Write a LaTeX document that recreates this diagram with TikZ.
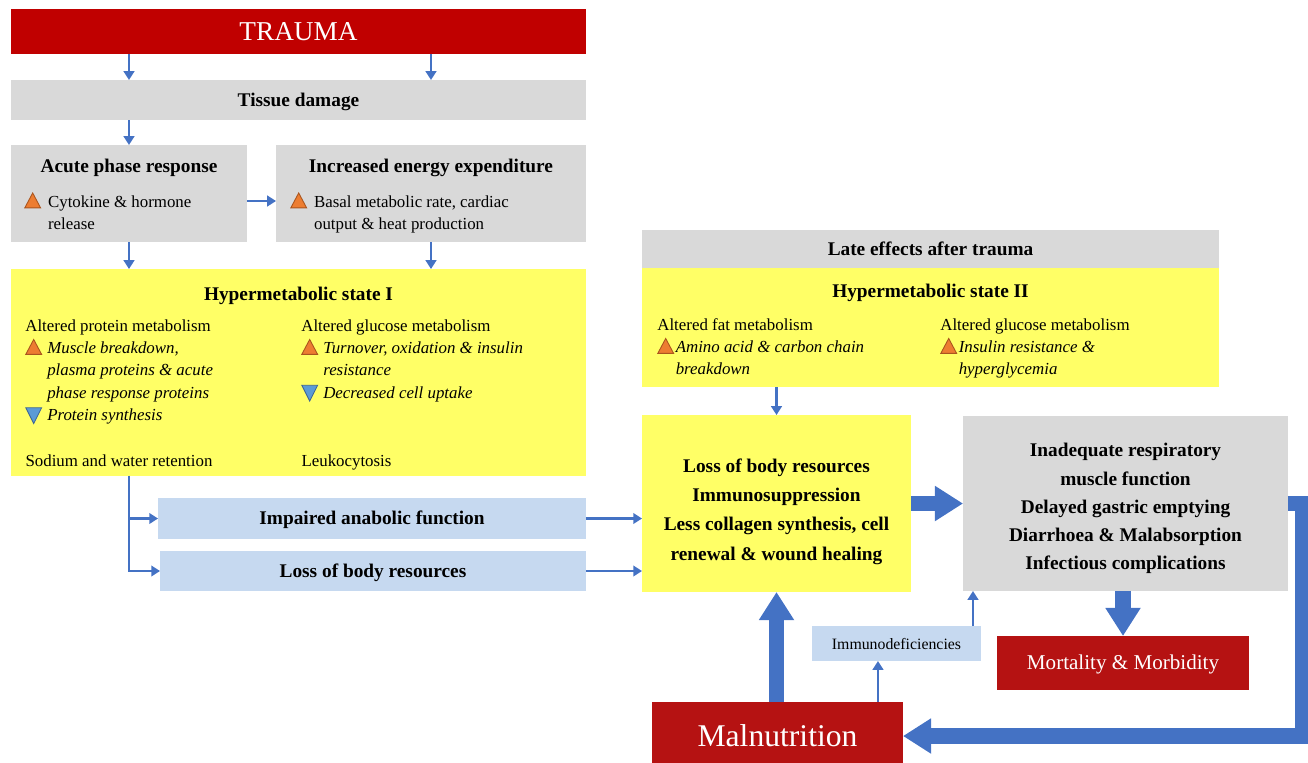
\documentclass[tikz,border=0pt]{standalone}
\usepackage{fontspec}
\setmainfont{Liberation Serif}
\usetikzlibrary{arrows.meta}
\definecolor{traumared}{RGB}{192,0,0}
\definecolor{darkred}{RGB}{181,18,18}
\definecolor{boxgrey}{RGB}{217,217,217}
\definecolor{boxyellow}{RGB}{255,255,102}
\definecolor{boxblue}{RGB}{198,217,240}
\definecolor{arrowblue}{RGB}{68,114,196}
\definecolor{triorange}{RGB}{237,125,49}
\definecolor{triedge}{RGB}{170,85,30}
\definecolor{triblue}{RGB}{91,155,213}
\definecolor{triblueedge}{RGB}{60,100,150}
\newcommand{\incr}{\tikz[baseline=0pt]\draw[draw=triedge,fill=triorange,line width=0.5pt] (0,-0.5pt) -- (9pt,-0.5pt) -- (4.5pt,8pt) -- cycle;}
\newcommand{\decr}{\tikz[baseline=0pt]\draw[draw=triblueedge,fill=triblue,line width=0.5pt] (0,7.5pt) -- (9pt,7.5pt) -- (4.5pt,-1.5pt) -- cycle;}
\begin{document}
\begin{tikzpicture}[x=0.02cm,y=-0.02cm,line width=0.6pt,
  box/.style={inner sep=0pt,outer sep=0pt,align=center},
  mid/.style={text height=0.95em,text depth=0.25em},
  head/.style={font=\fontsize{11}{16}\selectfont\bfseries,inner sep=0pt},
  txt/.style={font=\fontsize{9.6}{12.8}\selectfont,inner sep=0pt},
  arr/.style={color=arrowblue,line width=1.6pt,-{Triangle[width=6pt,length=5pt]}},
  bigarr/.style={color=arrowblue,line width=9pt,-{Triangle[width=19pt,length=16pt]}}]
\useasboundingbox (0,0) rectangle (1308,762);
\node[box,fill=traumared,text=white,font=\fontsize{15.5}{18}\selectfont,minimum width=11.5cm,minimum height=0.9cm] (trauma) at (298.5,31.5) {TRAUMA};
\node[box,mid,fill=boxgrey,font=\fontsize{11}{16}\selectfont\bfseries,minimum width=11.5cm,minimum height=0.8cm] (tissue) at (298.5,100) {Tissue damage};
\node[box,fill=boxgrey,minimum width=4.72cm,minimum height=1.94cm] (acute) at (129,193.5) {};
\node[box,fill=boxgrey,minimum width=6.2cm,minimum height=1.94cm] (energy) at (431,193.5) {};
\node[head] (acuteT) at (129,168) {Acute phase response};
\node[head] (energyT) at (431,168) {Increased energy expenditure};
\node[txt,anchor=base west] (acuteI) at (24,207) {\begin{tabular}[t]{@{}l@{\hspace{4pt}}l@{}}\incr & Cytokine \& hormone\\ & release\end{tabular}};
\node[txt,anchor=base west] (energyI) at (290,207) {\begin{tabular}[t]{@{}l@{\hspace{4pt}}l@{}}\incr & Basal metabolic rate, cardiac\\ & output \& heat production\end{tabular}};
\node[box,fill=boxyellow,minimum width=11.5cm,minimum height=4.14cm] (hyp1) at (298.5,372.5) {};
\node[head] (hyp1T) at (298.5,296) {Hypermetabolic state I};
\node[txt,anchor=base west] (protein) at (25,331) {\begin{tabular}[t]{@{}l@{\hspace{3pt}}l@{}}\multicolumn{2}{@{}l@{}}{Altered protein metabolism}\\
  \incr & \textit{Muscle breakdown,}\\
  & \textit{plasma proteins \& acute}\\
  & \textit{phase response proteins}\\
  \decr & \textit{Protein synthesis}\end{tabular}};
\node[txt,anchor=base west] (glucose) at (301,331) {\begin{tabular}[t]{@{}l@{\hspace{3pt}}l@{}}\multicolumn{2}{@{}l@{}}{Altered glucose metabolism}\\
  \incr & \textit{Turnover, oxidation \& insulin}\\
  & \textit{resistance}\\
  \decr & \textit{Decreased cell uptake}\end{tabular}};
\node[txt,anchor=base west] (sodium) at (25,466) {Sodium and water retention};
\node[txt,anchor=base west] (leuko) at (301,466) {Leukocytosis};
\node[box,mid,fill=boxblue,font=\fontsize{11}{16}\selectfont\bfseries,minimum width=8.56cm,minimum height=0.82cm] (impaired) at (372,518.5) {Impaired anabolic function};
\node[box,mid,fill=boxblue,font=\fontsize{11}{16}\selectfont\bfseries,minimum width=8.52cm,minimum height=0.8cm] (lossL) at (373,571) {Loss of body resources};
\node[box,mid,fill=boxgrey,font=\fontsize{11}{16}\selectfont\bfseries,minimum width=11.54cm,minimum height=0.76cm] (late) at (930.5,249) {Late effects after trauma};
\node[box,fill=boxyellow,minimum width=11.54cm,minimum height=2.38cm] (hyp2) at (930.5,327.5) {};
\node[head] (hyp2T) at (930.5,293) {Hypermetabolic state II};
\node[txt,anchor=base west] (fat) at (657,330) {\begin{tabular}[t]{@{}l@{\hspace{1pt}}l@{}}\multicolumn{2}{@{}l@{}}{Altered fat metabolism}\\
  \incr & \textit{Amino acid \& carbon chain}\\
  & \textit{breakdown}\end{tabular}};
\node[txt,anchor=base west] (glucoseII) at (940,330) {\begin{tabular}[t]{@{}l@{\hspace{1pt}}l@{}}\multicolumn{2}{@{}l@{}}{Altered glucose metabolism}\\
  \incr & \textit{Insulin resistance \&}\\
  & \textit{hyperglycemia}\end{tabular}};
\node[box,fill=boxyellow,minimum width=5.38cm,minimum height=3.54cm] (loss) at (776.5,503.5) {};
\node[box,font=\fontsize{11}{16.7}\selectfont\bfseries] (lossT) at (776.5,511.5) {Loss of body resources\\Immunosuppression\\Less collagen synthesis, cell\\renewal \& wound healing};
\node[box,fill=boxgrey,minimum width=6.5cm,minimum height=3.5cm] (compl) at (1125.5,503.5) {};
\node[box,font=\fontsize{11}{16}\selectfont\bfseries] (complT) at (1125.5,508.5) {Inadequate respiratory\\muscle function\\Delayed gastric emptying\\Diarrhoea \& Malabsorption\\Infectious complications};
\node[box,mid,fill=darkred,text=white,font=\fontsize{12}{14}\selectfont,minimum width=5.04cm,minimum height=1.08cm] (mort) at (1123,663) {Mortality \& Morbidity};
\node[box,fill=boxblue,font=\fontsize{9}{11}\selectfont,minimum width=3.38cm,minimum height=0.7cm] (immuno) at (896.5,643.5) {Immunodeficiencies};
\node[box,fill=darkred,text=white,font=\fontsize{18}{20}\selectfont,minimum width=5.02cm,minimum height=1.36cm] (maln) at (777.5,736) {Malnutrition};
\coordinate (m1) at ([xshift=-0.5cm]maln.north east);
\coordinate (i1) at ([xshift=-0.16cm]immuno.north east);
\draw[arr] (trauma.south -| acute.north) -- (tissue.north -| acute.north);
\draw[arr] (trauma.south -| energy.north) -- (tissue.north -| energy.north);
\draw[arr] (tissue.south -| acute.north) -- (acute.north);
\draw[arr] ([yshift=-0.15cm]acute.east) -- ([yshift=-0.15cm]energy.west);
\draw[arr] (acute.south) -- (acute.south |- hyp1.north);
\draw[arr] (energy.south) -- (energy.south |- hyp1.north);
\draw[arr] (hyp1.south -| acute.south) |- (impaired.west);
\draw[arr] (hyp1.south -| acute.south) |- (lossL.west);
\draw[arr] (impaired.east) -- (impaired.east -| loss.west);
\draw[arr] (lossL.east) -- (lossL.east -| loss.west);
\draw[arr] (hyp2.south -| loss.north) -- (loss.north);
\draw[arr] (m1) -- (m1 |- immuno.south);
\draw[arr] (i1) -- (i1 |- compl.south);
\draw[bigarr] (loss.east) -- (compl.west);
\draw[bigarr] (compl.south -| mort.north) -- (mort.north);
\draw[bigarr] (maln.north -| loss.south) -- (loss.south);
\draw[bigarr] (compl.east) -- ++(15,0) |- (maln.east);
\end{tikzpicture}
\end{document}
